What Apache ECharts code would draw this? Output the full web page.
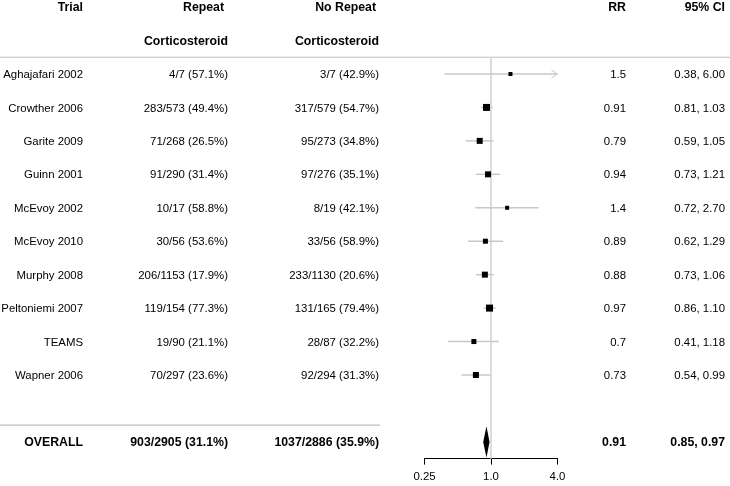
<!DOCTYPE html>
<html>
<head>
<meta charset="utf-8">
<script src="https://cdn.jsdelivr.net/npm/echarts@6/dist/echarts.min.js"></script>
<style>
  html, body { margin: 0; background: #fff; }
  #chart { width: 730px; height: 486px; }
</style>
</head>
<body>
<div id="chart"></div>
<script>
// table + forest data
var trials = ['Aghajafari 2002', 'Crowther 2006', 'Garite 2009', 'Guinn 2001', 'McEvoy 2002',
  'McEvoy 2010', 'Murphy 2008', 'Peltoniemi 2007', 'TEAMS', 'Wapner 2006'];
var repeatText = ['4/7 (57.1%)', '283/573 (49.4%)', '71/268 (26.5%)', '91/290 (31.4%)', '10/17 (58.8%)',
  '30/56 (53.6%)', '206/1153 (17.9%)', '119/154 (77.3%)', '19/90 (21.1%)', '70/297 (23.6%)'];
var noRepeatText = ['3/7 (42.9%)', '317/579 (54.7%)', '95/273 (34.8%)', '97/276 (35.1%)', '8/19 (42.1%)',
  '33/56 (58.9%)', '233/1130 (20.6%)', '131/165 (79.4%)', '28/87 (32.2%)', '92/294 (31.3%)'];
var rr = [1.5, 0.91, 0.79, 0.94, 1.4, 0.89, 0.88, 0.97, 0.7, 0.73];
var ciLow = [0.38, 0.81, 0.59, 0.73, 0.72, 0.62, 0.73, 0.86, 0.41, 0.54];
var ciHigh = [6.00, 1.03, 1.05, 1.21, 2.70, 1.29, 1.06, 1.10, 1.18, 0.99];
var boxSize = [4, 7, 6, 6, 4, 5, 6, 7, 5, 6];

var overallText = ['OVERALL', '903/2905 (31.1%)', '1037/2886 (35.9%)'];
var overallRR = 0.91;
var overallLow = 0.85;
var overallHigh = 0.97;

var header1 = ['Trial', 'Repeat', 'No Repeat', 'RR', '95% CI'];
var header2 = ['', 'Corticosteroid', 'Corticosteroid', '', ''];
var tickValues = [0.25, 1, 4];
var tickLabels = ['0.25', '1.0', '4.0'];

// layout
var colRight = [83, 228, 379, 626, 725];
var header1Shift = [0, -4, -3, 0, 0];
var overallRow = trials.length + 1;
var FONT = 'Liberation Sans, Arial, Helvetica, sans-serif';
var xMax = 4;

// build text cells
var cells = [];
header1.forEach(function (t, c) { cells.push({ col: c, row: -2, text: t, bold: true, dx: header1Shift[c] }); });
header2.forEach(function (t, c) { if (t) cells.push({ col: c, row: -1, text: t, bold: true }); });
trials.forEach(function (t, i) {
  cells.push({ col: 0, row: i, text: t });
  cells.push({ col: 1, row: i, text: repeatText[i] });
  cells.push({ col: 2, row: i, text: noRepeatText[i] });
  cells.push({ col: 3, row: i, text: String(rr[i]) });
  cells.push({ col: 4, row: i, text: ciLow[i].toFixed(2) + ', ' + ciHigh[i].toFixed(2) });
});
overallText.forEach(function (t, c) { cells.push({ col: c, row: overallRow, text: t, bold: true }); });
cells.push({ col: 3, row: overallRow, text: String(overallRR), bold: true });
cells.push({ col: 4, row: overallRow, text: overallLow.toFixed(2) + ', ' + overallHigh.toFixed(2), bold: true });

var chart = echarts.init(document.getElementById('chart'));

var yCommon = { type: 'value', inverse: true, min: -2, max: 11.5, show: false };

var option = {
  animation: false,
  grid: [
    { left: 424.5, width: 133, top: 7.1, bottom: 27.4 },
    { left: 0, right: 0, top: 7.1, bottom: 27.4 }
  ],
  xAxis: [
    {
      gridIndex: 0, type: 'log', logBase: 4, min: 0.25, max: 4, splitNumber: 2,
      axisLine: { show: true, onZero: false, lineStyle: { color: '#000', width: 1 } },
      axisTick: { show: true, length: 6, lineStyle: { color: '#000' } },
      splitLine: { show: false },
      axisLabel: {
        margin: 13, color: '#000', fontSize: 11.4, fontFamily: FONT,
        formatter: function (v) {
          for (var k = 0; k < tickValues.length; k++) {
            if (Math.abs(v - tickValues[k]) < 1e-6) return tickLabels[k];
          }
          return '';
        }
      }
    },
    { gridIndex: 1, type: 'value', min: 0, max: 730, show: false }
  ],
  yAxis: [
    Object.assign({ gridIndex: 0 }, yCommon),
    Object.assign({ gridIndex: 1 }, yCommon)
  ],
  series: [
    // separator lines
    {
      type: 'custom', xAxisIndex: 1, yAxisIndex: 1, silent: true, z: 1,
      data: [[0, -0.5, 730], [0, 10.5, 380]],
      renderItem: function (params, api) {
        var a = api.coord([api.value(0), api.value(1)]);
        var b = api.coord([api.value(2), api.value(1)]);
        return { type: 'line', shape: { x1: a[0], y1: a[1], x2: b[0], y2: b[1] },
          style: { stroke: '#bdbdbd', lineWidth: 1.2 } };
      }
    },
    // table text
    {
      type: 'custom', xAxisIndex: 1, yAxisIndex: 1, silent: true, z: 3,
      data: cells.map(function (c) { return [colRight[c.col], c.row]; }),
      renderItem: function (params, api) {
        var c = cells[params.dataIndex];
        var p = api.coord([api.value(0), api.value(1)]);
        return { type: 'text', x: p[0] + (c.dx || 0), y: p[1] + 1,
          style: { text: c.text, textAlign: 'right', textVerticalAlign: 'middle', fill: '#000',
            font: c.bold ? 'bold 12.3px ' + FONT : '11.4px ' + FONT } };
      }
    },
    // reference line at RR = 1
    {
      type: 'custom', xAxisIndex: 0, yAxisIndex: 0, silent: true, z: 1, clip: false,
      data: [[1, -0.5, 11.5]],
      renderItem: function (params, api) {
        var a = api.coord([api.value(0), api.value(1)]);
        var b = api.coord([api.value(0), api.value(2)]);
        return { type: 'line', shape: { x1: a[0], y1: a[1], x2: b[0], y2: b[1] },
          style: { stroke: '#dcdcdc', lineWidth: 2 } };
      }
    },
    // confidence intervals
    {
      type: 'custom', xAxisIndex: 0, yAxisIndex: 0, silent: true, z: 2, clip: false,
      data: trials.map(function (t, i) { return [ciLow[i], i, ciHigh[i]]; }),
      renderItem: function (params, api) {
        var hiVal = Math.min(api.value(2), xMax);
        var lo = api.coord([api.value(0), api.value(1)]);
        var hi = api.coord([hiVal, api.value(1)]);
        var children = [{ type: 'line', shape: { x1: lo[0], y1: lo[1], x2: hi[0], y2: hi[1] },
          style: { stroke: '#c8c8c8', lineWidth: 1.5 } }];
        if (api.value(2) > xMax) {
          children.push({ type: 'polyline',
            shape: { points: [[hi[0] - 6, hi[1] - 4], [hi[0], hi[1]], [hi[0] - 6, hi[1] + 4]] },
            style: { stroke: '#c8c8c8', fill: null, lineWidth: 1 } });
        }
        return { type: 'group', children: children };
      }
    },
    // point estimates
    {
      type: 'scatter', xAxisIndex: 0, yAxisIndex: 0, silent: true, z: 3,
      symbol: 'rect',
      data: rr.map(function (v, i) { return { value: [v, i], symbolSize: boxSize[i] }; }),
      itemStyle: { color: '#000', opacity: 1 }
    },
    // overall diamond
    {
      type: 'custom', xAxisIndex: 0, yAxisIndex: 0, silent: true, z: 3, clip: false,
      data: [[overallLow, overallRow, overallRR, overallHigh]],
      renderItem: function (params, api) {
        var row = api.value(1);
        var l = api.coord([api.value(0), row]);
        var r = api.coord([api.value(3), row]);
        var top = api.coord([api.value(2), row - 0.47]);
        var bot = api.coord([api.value(2), row + 0.47]);
        return { type: 'polygon', shape: { points: [l, top, r, bot] }, style: { fill: '#000' } };
      }
    }
  ]
};

chart.setOption(option);
</script>
</body>
</html>
